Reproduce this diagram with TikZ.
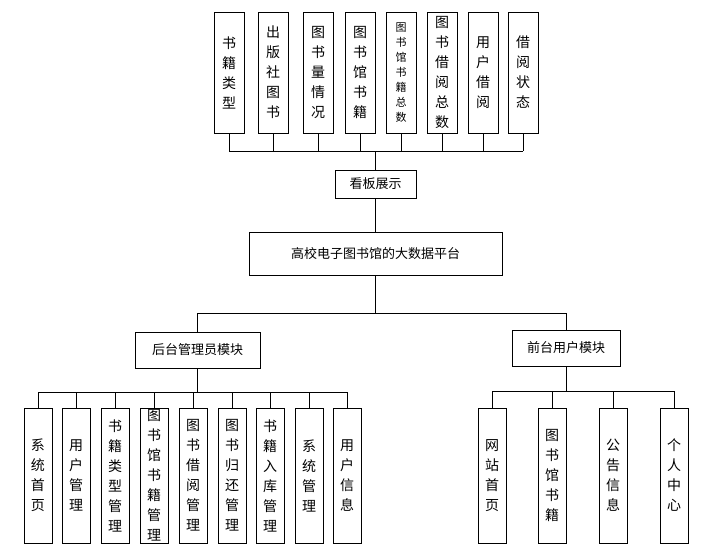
\documentclass[tikz,border=0pt]{standalone}
\usepackage{fontspec}
\setmainfont{Noto Sans CJK SC}
\XeTeXlinebreaklocale "zh"
\XeTeXlinebreakskip=0pt plus 1pt
\usetikzlibrary{positioning}
\begin{document}
\begin{tikzpicture}[x=1pt,y=-1pt,
  box/.style={draw,line width=0.9pt,fill=white,font=\fontsize{13}{15}\selectfont},
  vbox/.style={draw,line width=0.9pt,minimum width=30pt,text width=15pt,align=center,inner sep=0pt,font=\fontsize{14}{20}\selectfont},
  svbox/.style={vbox,font=\fontsize{11}{15}\selectfont},
  link/.style={line width=0.9pt}]
\useasboundingbox (0,0) rectangle (712,552);
% Top row
\foreach \n/\x/\t/\s in {t1/229/书籍类型/vbox,t2/273/出版社图书/vbox,t3/318/图书量情况/vbox,
  t4/360/图书馆书籍/vbox,t5/401/图书馆书籍总数/svbox,t6/442/图书借阅总数/vbox,
  t7/483/用户借阅/vbox,t8/523/借阅状态/vbox}
  \node[\s,minimum height=121pt] (\n) at (\x,72.5) {\t};
\node[box,minimum width=81pt,minimum height=28pt] (board) at (375.5,184) {看板展示};
\node[box,minimum width=253pt,minimum height=43pt] (plat) at (375.5,253.5) {高校电子图书馆的大数据平台};
\node[box,minimum width=125pt,minimum height=36pt] (back) at (197.5,350) {后台管理员模块};
\node[box,minimum width=108pt,minimum height=36pt] (front) at (566,348) {前台用户模块};
% Bottom rows
\foreach \n/\x/\t in {b1/38/系统首页,b2/76/用户管理,b3/115/书籍类型管理,b4/154/图书馆书籍管理,
  b5/193/图书借阅管理,b6/232/图书归还管理,b7/270/书籍入库管理,b8/309/系统管理,b9/347/用户信息}
  \node[vbox,minimum width=28pt,minimum height=135pt] (\n) at (\x,475.5) {\t};
\foreach \n/\x/\t in {f1/492/网站首页,f2/552/图书馆书籍,f3/613/公告信息,f4/674/个人中心}
  \node[vbox,minimum width=28pt,minimum height=135pt] (\n) at (\x,475.5) {\t};
% Connectors
\coordinate (tbus) at (0,151);
\foreach \n in {t1,t2,t3,t4,t5,t6,t7,t8}
  \draw[link] (\n.south) -- (\n.south |- tbus);
\draw[link] (t1.south |- tbus) -- (t8.south |- tbus);
\draw[link] (board.north) -- (board.north |- tbus);
\draw[link] (board) -- (plat);
\coordinate (mbus) at (0,313);
\draw[link] (plat.south) -- (plat.south |- mbus);
\draw[link] (back.north |- mbus) -- (front.north |- mbus);
\draw[link] (back.north) -- (back.north |- mbus);
\draw[link] (front.north) -- (front.north |- mbus);
\coordinate (lbus) at (0,392);
\foreach \n in {b1,b2,b3,b4,b5,b6,b7,b8,b9}
  \draw[link] (\n.north) -- (\n.north |- lbus);
\draw[link] (b1.north |- lbus) -- (b9.north |- lbus);
\draw[link] (back.south) -- (back.south |- lbus);
\coordinate (rbus) at (0,391);
\foreach \n in {f1,f2,f3,f4}
  \draw[link] (\n.north) -- (\n.north |- rbus);
\draw[link] (f1.north |- rbus) -- (f4.north |- rbus);
\draw[link] (front.south) -- (front.south |- rbus);
\end{tikzpicture}
\end{document}
